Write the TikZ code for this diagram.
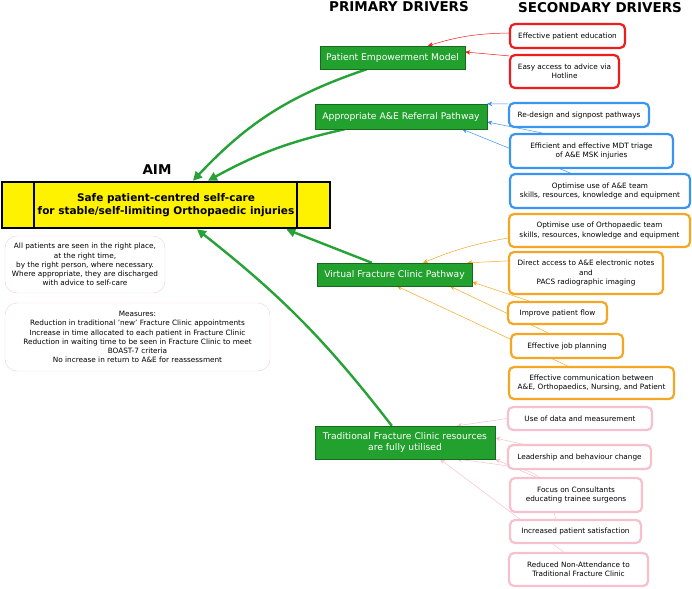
\documentclass[tikz,border=0pt]{standalone}
\usepackage{fontspec}
\setmainfont{DejaVu Sans}
\usetikzlibrary{arrows.meta,backgrounds}
\definecolor{drvgreen}{HTML}{23A12F}
\definecolor{drvedge}{HTML}{17691F}
\definecolor{arrgreen}{HTML}{26A236}
\definecolor{drvred}{HTML}{EE1C1C}
\definecolor{drvblue}{HTML}{3A95F0}
\definecolor{drvorange}{HTML}{F5A623}
\definecolor{drvpink}{HTML}{F6C0CC}
\definecolor{notepink}{HTML}{F5CCD5}
\begin{document}
\begin{tikzpicture}[x=1pt, y=-1pt,
    title/.style = {font=\fontsize{13.5}{15}\selectfont\bfseries},
    prim/.style = {draw=drvedge, fill=drvgreen, text=white, align=center, inner sep=0pt,
                   font=\fontsize{9.2}{10.5}\selectfont},
    sec/.style = {draw=#1, line width=2.2pt, rounded corners=5pt, fill=white, align=center,
                  inner sep=0pt, font=\fontsize{7.3}{9.2}\selectfont},
    note/.style = {draw=notepink, rounded corners=12pt, align=center, inner sep=0pt,
                   font=\fontsize{7.3}{9.2}\selectfont},
    main/.style = {-{Triangle[length=9pt,width=9pt]}, arrgreen, line width=2.4pt},
    link/.style = {-{Stealth[length=5pt,width=4.5pt]}, line width=0.5pt}]
\useasboundingbox (0,0) rectangle (692,588);

% titles
\node[title] (taim) at (157,170) {AIM};
\node[title] (tprim) at (399,7) {PRIMARY DRIVERS};
\node[title] (tsec) at (600,8) {SECONDARY DRIVERS};

% aim
\node[draw, line width=2.6pt, fill=yellow, minimum width=328pt, minimum height=46pt,
      inner sep=0pt, align=center, font=\fontsize{10.5}{13.3}\selectfont\bfseries]
      (aim) at (166,205) {Safe patient-centred self-care\\for stable/self-limiting Orthopaedic injuries};
\draw[line width=2pt] ([xshift=33pt]aim.north west) -- ([xshift=33pt]aim.south west);
\draw[line width=2pt] ([xshift=-34pt]aim.north east) -- ([xshift=-34pt]aim.south east);

\node[note, minimum width=160pt, minimum height=57pt] (n1) at (85,264.5)
    {All patients are seen in the right place,\\at the right time,\\by the right person, where necessary.\\Where appropriate, they are discharged\\with advice to self-care};
\node[note, minimum width=265pt, minimum height=68pt] (n2) at (137.5,337)
    {Measures:\\Reduction in traditional 'new' Fracture Clinic appointments\\Increase in time allocated to each patient in Fracture Clinic\\Reduction in waiting time to be seen in Fracture Clinic to meet\\BOAST-7 criteria\\No increase in return to A\&E for reassessment};

% primary drivers
\node[prim, minimum width=145pt, minimum height=23pt] (pem) at (392.5,57.5) {Patient Empowerment Model};
\node[prim, minimum width=172pt, minimum height=25pt] (apw) at (401,116.5) {Appropriate A\&E Referral Pathway};
\node[prim, minimum width=155pt, minimum height=23pt] (vfc) at (394.5,274.5) {Virtual Fracture Clinic Pathway};
\node[prim, minimum width=180pt, minimum height=33pt] (tfc) at (405,442.5) {Traditional Fracture Clinic resources\\are fully utilised};

% secondary drivers
\node[sec=drvred, minimum width=115pt, minimum height=24pt] (r1) at (567.5,36) {Effective patient education};
\node[sec=drvred, minimum width=109pt, minimum height=33pt] (r2) at (564.5,71.5) {Easy access to advice via\\Hotline};

\node[sec=drvblue, minimum width=140pt, minimum height=24pt] (b1) at (579,115) {Re-design and signpost pathways};
\node[sec=drvblue, minimum width=163pt, minimum height=34pt] (b2) at (591.5,151) {Efficient and effective MDT triage\\of A\&E MSK injuries};
\node[sec=drvblue, minimum width=180pt, minimum height=34pt] (b3) at (600,191) {Optimise use of A\&E team\\skills, resources, knowledge and equipment};

\node[sec=drvorange, minimum width=181pt, minimum height=33pt] (o1) at (599.5,230.5) {Optimise use of Orthopaedic team\\skills, resources, knowledge and equipment};
\node[sec=drvorange, minimum width=154pt, minimum height=42pt] (o2) at (586,273) {Direct access to A\&E electronic notes\\and\\PACS radiographic imaging};
\node[sec=drvorange, minimum width=99pt, minimum height=22pt] (o3) at (557.5,313) {Improve patient flow};
\node[sec=drvorange, minimum width=112pt, minimum height=24pt] (o4) at (567,346) {Effective job planning};
\node[sec=drvorange, minimum width=165pt, minimum height=32pt] (o5) at (591.5,383) {Effective communication between\\A\&E, Orthopaedics, Nursing, and Patient};

\node[sec=drvpink, minimum width=144pt, minimum height=23pt] (p1) at (580,418.5) {Use of data and measurement};
\node[sec=drvpink, minimum width=143pt, minimum height=24pt] (p2) at (579.5,457) {Leadership and behaviour change};
\node[sec=drvpink, minimum width=132pt, minimum height=34pt] (p3) at (576,495) {Focus on Consultants\\educating trainee surgeons};
\node[sec=drvpink, minimum width=131pt, minimum height=23pt] (p4) at (575.5,531.5) {Increased patient satisfaction};
\node[sec=drvpink, minimum width=139pt, minimum height=33pt] (p5) at (578.5,569.5) {Reduced Non-Attendance to\\Traditional Fracture Clinic};

\begin{pgfonlayer}{background}
% primary to aim
\draw[main] ([xshift=47pt]pem.south west) to[bend right=14] ([xshift=27pt]aim.north);
\draw[main] ([xshift=30pt]apw.south west) to[bend right=8] ([xshift=42pt]aim.north);
\draw[main] ([xshift=55pt]vfc.north west) -- ([xshift=-45pt]aim.south east);
\draw[main] ([xshift=77pt]tfc.north west) to[bend right=7] ([xshift=31pt]aim.south);

% secondary to primary
\draw[link, drvred] ([yshift=3pt]r1.west) to[bend right=8] ([xshift=35.5pt]pem.north);
\draw[link, drvred] ([yshift=-2pt]r2.north west) -- ([yshift=5.5pt]pem.east);

\draw[link, drvblue] ([yshift=-2pt]b1.north west) -- (apw.north east);
\draw[link, drvblue] ([xshift=33pt]b2.north west) -- ([yshift=-5.5pt]apw.east);
\draw[link, drvblue] ([xshift=-30pt]b3.north) -- ([xshift=-25pt]apw.south east);

\draw[link, drvorange] ([yshift=-7.5pt]o1.west) to[bend right=6] ([xshift=28.5pt]vfc.north);
\draw[link, drvorange] ([yshift=-10pt]o2.north west) -- ([xshift=-5pt]vfc.north east);
\draw[link, drvorange] ([xshift=22pt]o3.north west) -- ([yshift=-7.5pt]vfc.east);
\draw[link, drvorange] ([xshift=-19pt]o4.north) -- ([xshift=55.5pt]vfc.south);
\draw[link, drvorange] ([xshift=-24pt]o5.north) -- ([xshift=2.5pt]vfc.south);

\draw[link, drvpink] (p1.west) -- ([xshift=52pt]tfc.north);
\draw[link, drvpink] (p2.center) -- ([yshift=4.5pt]tfc.east);
\draw[link, drvpink] (p3.center) -- (tfc.south east);
\draw[link, drvpink] ([xshift=-20pt]p4.north) .. controls (545,470) .. ([xshift=52pt]tfc.south);
\draw[link, drvpink] ([xshift=-15pt]p5.north) -- ([xshift=35pt]tfc.south);
\end{pgfonlayer}
\end{tikzpicture}
\end{document}
